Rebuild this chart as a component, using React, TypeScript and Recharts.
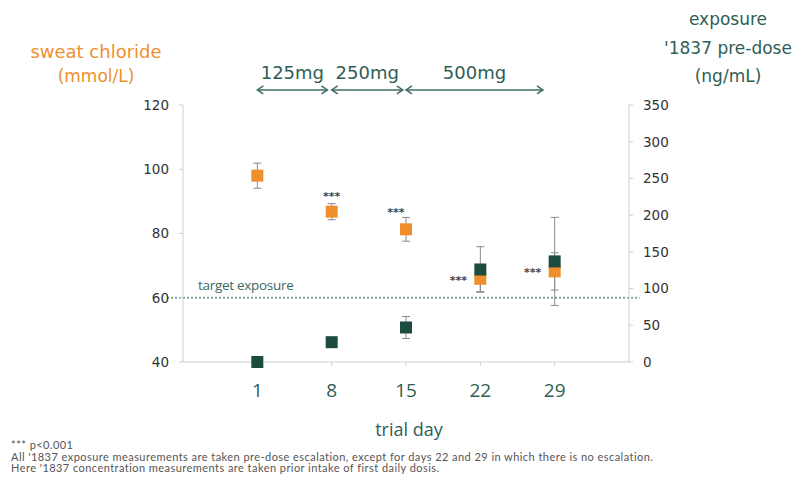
import {
  ComposedChart,
  Scatter,
  ErrorBar,
  XAxis,
  YAxis,
  ReferenceLine,
} from 'recharts';

// trial days
const days = [1, 8, 15, 22, 29];

// sweat chloride (mmol/L), left axis
const sweatChloride = [98, 86.8, 81.3, 65.9, 68.2];
const sweatErr = [3.9, 2.5, 3.7, 4, 5.8];
const sweatSig = [false, true, true, true, true];

// '1837 pre-dose exposure (ng/mL), right axis
const exposure = [0, 27, 47, 126, 137];
const exposureErr = [0, 0, 15, 31, 60];

const leftTicks = [40, 60, 80, 100, 120];
const rightTicks = [0, 50, 100, 150, 200, 250, 300, 350];

// dose escalation periods
const doseLabels = ['125mg', '250mg', '500mg'];
const doseStart = [1, 8, 15];
const doseEnd = [7.6, 14.7, 27.9];

const targetLevel = 60;

const sweatData = days.map((day, i) => ({
  day,
  value: sweatChloride[i],
  err: sweatErr[i],
  sig: sweatSig[i],
}));

const exposureData = days.map((day, i) => ({
  day,
  value: exposure[i],
  err: exposureErr[i],
}));

const ORANGE = '#ef8f2c';
const GREEN = '#1c4b3f';
const TEAL = '#2f5e55';

// where the *** sits relative to each point
const sigOffset: Record<number, [number, number]> = {
  8: [0, -17],
  15: [-10, -18],
  22: [-22, 0],
  29: [-22, 0],
};

const OrangeSquare = (props: any) => {
  const { cx, cy, payload } = props;
  const off = sigOffset[payload.day];
  return (
    <g>
      <rect x={cx - 6} y={cy - 6} width={12} height={12} fill={ORANGE} />
      {payload.sig && off && (
        <text
          x={cx + off[0]}
          y={cy + off[1] + 5}
          textAnchor="middle"
          fontSize={11}
          fontWeight="bold"
          fontFamily="DejaVu Sans"
          fill="#444"
        >
          ***
        </text>
      )}
    </g>
  );
};

const GreenSquare = (props: any) => {
  const { cx, cy } = props;
  return <rect x={cx - 6} y={cy - 6} width={12} height={12} fill={GREEN} />;
};

const DoseArrow = (props: any) => {
  const { x1, y1, x2, label } = props;
  const c = '#3f6e66';
  return (
    <g>
      <line x1={x1} y1={y1} x2={x2} y2={y1} stroke={c} strokeWidth={1.5} />
      <polyline points={`${x1 + 6},${y1 - 4} ${x1},${y1} ${x1 + 6},${y1 + 4}`} fill="none" stroke={c} strokeWidth={1.5} />
      <polyline points={`${x2 - 6},${y1 - 4} ${x2},${y1} ${x2 - 6},${y1 + 4}`} fill="none" stroke={c} strokeWidth={1.5} />
      <text
        x={(x1 + x2) / 2}
        y={y1 - 11}
        textAnchor="middle"
        fontSize={18}
        fontFamily="DejaVu Sans"
        fill={TEAL}
      >
        {label}
      </text>
    </g>
  );
};

const TargetLine = (props: any) => {
  const { x1, y1, x2 } = props;
  return (
    <g>
      <line x1={x1} y1={y1} x2={x2} y2={y1} stroke="#7ea398" strokeWidth={2} strokeDasharray="2 2" />
      <text x={x1 + 31} y={y1 - 8} fontSize={13.5} fontFamily="Open Sans" fill="#3a6a60" letterSpacing={-0.3}>
        target exposure
      </text>
    </g>
  );
};

export default function App() {
  return (
    <div
      style={{
        position: 'absolute',
        left: 0,
        top: 0,
        width: 805,
        height: 483,
        background: '#fff',
        fontFamily: 'DejaVu Sans',
      }}
    >
      <ComposedChart
        width={805}
        height={483}
        margin={{ top: 105, right: 116, bottom: 80, left: 123 }}
      >
        <XAxis
          type="number"
          dataKey="day"
          domain={[-6, 36]}
          ticks={days}
          allowDataOverflow
          height={41}
          tickSize={4}
          tickMargin={18}
          axisLine={{ stroke: '#cfcfcf' }}
          tickLine={{ stroke: '#cfcfcf' }}
          tick={{ fill: TEAL, fontSize: 19, fontFamily: 'Open Sans' }}
        />
        <YAxis
          yAxisId="left"
          type="number"
          domain={[40, 120]}
          ticks={leftTicks}
          width={60}
          tickSize={4}
          tickMargin={10}
          axisLine={{ stroke: '#cfcfcf' }}
          tickLine={{ stroke: '#cfcfcf' }}
          tick={{ fill: '#333', fontSize: 13.5, fontFamily: 'DejaVu Sans' }}
        />
        <YAxis
          yAxisId="right"
          orientation="right"
          type="number"
          domain={[0, 350]}
          ticks={rightTicks}
          width={60}
          tickSize={4}
          tickMargin={10}
          axisLine={{ stroke: '#cfcfcf' }}
          tickLine={{ stroke: '#cfcfcf' }}
          tick={{ fill: '#333', fontSize: 13.5, fontFamily: 'DejaVu Sans' }}
        />
        <ReferenceLine
          yAxisId="left"
          segment={[
            { x: -7.5, y: targetLevel },
            { x: 37, y: targetLevel },
          ]}
          ifOverflow="visible"
          shape={(p: any) => <TargetLine {...p} />}
        />
        {doseLabels.map((d, i) => (
          <ReferenceLine
            key={d}
            yAxisId="left"
            segment={[
              { x: doseStart[i], y: 124.7 },
              { x: doseEnd[i], y: 124.7 },
            ]}
            ifOverflow="visible"
            shape={(p: any) => <DoseArrow {...p} label={d} />}
          />
        ))}
        <Scatter
          yAxisId="left"
          data={sweatData}
          dataKey="value"
          shape={OrangeSquare}
          isAnimationActive={false}
        >
          <ErrorBar dataKey="err" direction="y" width={4} stroke="#8a8a8a" strokeWidth={1} />
        </Scatter>
        <Scatter
          yAxisId="right"
          data={exposureData}
          dataKey="value"
          shape={GreenSquare}
          isAnimationActive={false}
        >
          <ErrorBar dataKey="err" direction="y" width={4} stroke="#8a8a8a" strokeWidth={1} />
        </Scatter>
      </ComposedChart>

      <div style={{ position: 'absolute', left: 0, width: 192, top: 40, textAlign: 'center', color: ORANGE }}>
        <div style={{ fontSize: 18, lineHeight: '24px' }}>sweat chloride</div>
        <div style={{ fontSize: 17, lineHeight: '24px' }}>(mmol/L)</div>
      </div>

      <div style={{ position: 'absolute', left: 648, width: 160, top: 5, textAlign: 'center', color: TEAL, fontSize: 17, lineHeight: '28.5px' }}>
        <div>exposure</div>
        <div>'1837 pre-dose</div>
        <div>(ng/mL)</div>
      </div>

      <div
        style={{
          position: 'absolute',
          left: 309,
          width: 200,
          top: 416,
          textAlign: 'center',
          color: TEAL,
          fontSize: 18,
          fontFamily: 'Open Sans',
          lineHeight: '26px',
        }}
      >
        trial day
      </div>

      <div
        style={{
          position: 'absolute',
          left: 11,
          top: 439,
          color: '#555',
          fontSize: 11,
          fontFamily: 'Lato',
          lineHeight: '11.7px',
          letterSpacing: 0.45,
          whiteSpace: 'nowrap',
        }}
      >
        <div>*** p&lt;0.001</div>
        <div>All '1837 exposure measurements are taken pre-dose escalation, except for days 22 and 29 in which there is no escalation.</div>
        <div>Here '1837 concentration measurements are taken prior intake of first daily dosis.</div>
      </div>
    </div>
  );
}
